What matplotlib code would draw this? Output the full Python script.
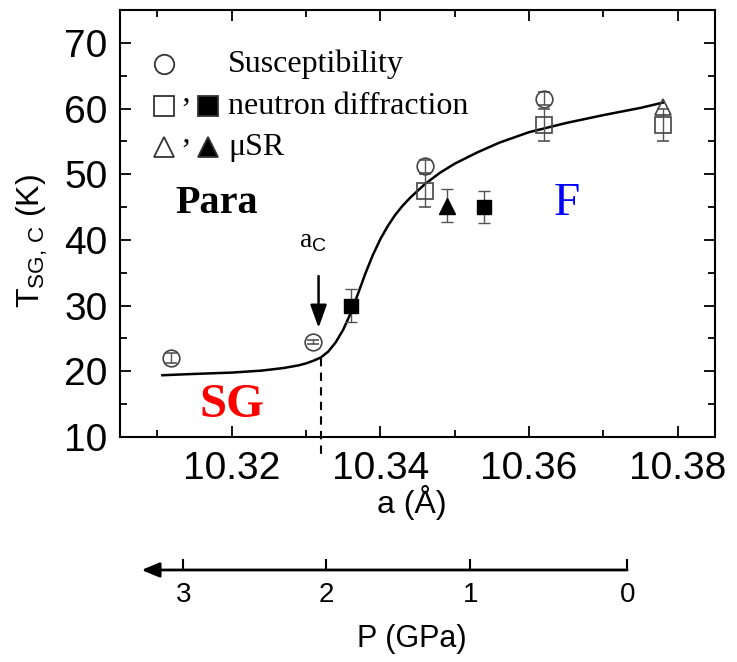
import matplotlib
matplotlib.use('Agg')
import matplotlib.pyplot as plt
from matplotlib.ticker import MultipleLocator

plt.rcParams['font.family'] = ['Liberation Sans', 'DejaVu Sans']
plt.rcParams['mathtext.fontset'] = 'custom'
plt.rcParams['mathtext.rm'] = 'Liberation Sans'
plt.rcParams['mathtext.it'] = 'Liberation Sans:italic'

# susceptibility (open circles)
sus_a = [10.3119, 10.3309, 10.3460, 10.3620]
sus_t = [22.0, 24.4, 51.2, 61.5]
sus_err = [0.8, 0.3, 1.0, 1.0]

# neutron diffraction, open and filled squares
nd_open_a = [10.3460, 10.3620, 10.3780]
nd_open_t = [47.5, 57.5, 57.5]
nd_open_err = [2.5, 2.5, 2.5]
nd_fill_a = [10.3360, 10.3540]
nd_fill_t = [30.0, 45.0]
nd_fill_err = [2.5, 2.5]

# muSR, open and filled triangles
msr_open_a = [10.3780]
msr_open_t = [60.3]
msr_fill_a = [10.3490]
msr_fill_t = [45.2]
msr_fill_err = [2.5]

# guide line
fit_a = [10.3107, 10.315, 10.320, 10.324, 10.327, 10.329, 10.330, 10.331,
         10.332, 10.333, 10.334, 10.335, 10.336, 10.337, 10.338, 10.339,
         10.340, 10.341, 10.342, 10.343, 10.344, 10.346, 10.348, 10.350,
         10.353, 10.356, 10.360, 10.365, 10.370, 10.375, 10.378]
fit_t = [19.4, 19.6, 19.8, 20.1, 20.5, 20.9, 21.2, 21.6,
         22.1, 23.0, 24.4, 26.3, 28.8, 31.8, 34.9, 37.7,
         40.1, 42.1, 43.8, 45.2, 46.4, 48.5, 50.2, 51.6,
         53.3, 54.8, 56.4, 57.8, 59.0, 60.1, 60.9]

a_c = 10.332
a_c_t = 22.1

# pressure scale: pressure values and matching lattice constant
p_ticks = [3, 2, 1, 0]
p_lattice = [10.3135, 10.3327, 10.3521, 10.3732]
p_arrow_tip = 10.3079

fig = plt.figure(figsize=(7.37, 6.62), dpi=100)
ax = fig.add_axes([0.1628, 0.3399, 0.8073, 0.6450])

ax.plot(fit_a, fit_t, color='k', lw=1.8, zorder=2)

ebkw = dict(ecolor='#555555', elinewidth=1.0, capsize=4, capthick=1.0, ls='none', zorder=3)
ax.errorbar(sus_a, sus_t, yerr=sus_err, marker='o', ms=12, mfc='none',
            mec='#444444', mew=1.2, **ebkw)
ax.errorbar(nd_open_a, nd_open_t, yerr=nd_open_err, marker='s', ms=11, mfc='none',
            mec='#444444', mew=1.2, **ebkw)
ax.errorbar(nd_fill_a, nd_fill_t, yerr=nd_fill_err, marker='s', ms=10, mfc='k',
            mec='k', **ebkw)
ax.errorbar(msr_fill_a, msr_fill_t, yerr=msr_fill_err, marker='^', ms=12, mfc='k',
            mec='k', **ebkw)
ax.plot(msr_open_a, msr_open_t, marker='^', ms=12, mfc='none', mec='#444444',
        mew=1.2, ls='none', zorder=3)

# a_C marker
ax.plot([a_c, a_c], [a_c_t, 6.8], color='k', ls=(0, (4, 3)), lw=1.5, clip_on=False)
ax.annotate('', xy=(10.3317, 26.6), xytext=(10.3317, 34.5),
            arrowprops=dict(arrowstyle='-|>,head_length=0.7,head_width=0.25',
                            color='k', lw=1.8, mutation_scale=20,
                            shrinkA=0, shrinkB=0))
ax.text(10.3309, 39.8, r'a$_{\mathrm{C}}$', family='Liberation Serif',
        fontsize=20, ha='center', va='center')

# phase labels
ax.text(10.3180, 45.5, 'Para', family='Liberation Serif', weight='bold',
        fontsize=29, ha='center', va='center')
ax.text(10.3651, 45.5, 'F', family='Liberation Serif', color='#0000ff',
        fontsize=34, ha='center', va='center')
ax.text(10.3201, 14.9, 'SG', family='Liberation Serif', color='#ff0000',
        weight='bold', fontsize=35, ha='center', va='center')

# hand made legend
tr = ax.transAxes
lk = dict(transform=tr, ls='none', mec='#333333', mew=1.3, ms=14, clip_on=False)
ax.plot([0.074], [0.874], marker='o', mfc='none', **lk)
ax.plot([0.074], [0.775], marker='s', mfc='none', **lk)
ax.plot([0.148], [0.775], marker='s', mfc='k', **lk)
ax.plot([0.074], [0.679], marker='^', mfc='none', **lk)
ax.plot([0.148], [0.679], marker='^', mfc='k', **lk)
tk = dict(transform=tr, family='Liberation Serif', fontsize=23, va='center', ha='left')
ax.text(0.101, 0.762, '\u2019', **tk)
ax.text(0.101, 0.666, '\u2019', **tk)
ax.text(0.1815, 0.874, 'Susceptibility', **tk)
ax.text(0.1815, 0.775, 'neutron diffraction', **tk)
ax.text(0.1815, 0.679, '\u03bcSR', **tk)

ax.set_xlim(10.305, 10.385)
ax.set_ylim(10, 75)
ax.xaxis.set_major_locator(MultipleLocator(0.02))
ax.xaxis.set_minor_locator(MultipleLocator(0.01))
ax.yaxis.set_major_locator(MultipleLocator(10))
ax.yaxis.set_minor_locator(MultipleLocator(5))
ax.set_xticks([10.32, 10.34, 10.36, 10.38])
ax.set_xticklabels(['10.32', '10.34', '10.36', '10.38'])
ax.tick_params(which='both', direction='in', top=True, right=True, width=1.3,
               labelsize=28)
ax.tick_params(which='major', length=8)
ax.tick_params(which='minor', length=5)
ax.tick_params(axis='x', pad=10)
ax.tick_params(axis='y', pad=9)
for s in ax.spines.values():
    s.set_linewidth(1.5)

ax.set_xlabel('a (\u00c5)', fontsize=23)
ax.xaxis.set_label_coords(0.49, -0.112)
ax.set_ylabel(r'T$_{\mathrm{SG,\,C}}$ (K)', fontsize=23)
ax.yaxis.set_label_coords(-0.118, 0.46)

# pressure scale below
ax2 = fig.add_axes([0.1628, 0.139, 0.8073, 0.001])
ax2.set_xlim(ax.get_xlim())
ax2.set_facecolor('none')
for s in ax2.spines.values():
    s.set_visible(False)
ax2.set_yticks([])
ax2.set_xticks(p_lattice)
ax2.set_xticklabels([str(p) for p in p_ticks])
ax2.tick_params(axis='x', direction='in', length=8, width=1.5, labelsize=20, pad=9)
ax2.annotate('', xy=(p_arrow_tip, 0), xycoords=('data', 'axes fraction'),
             xytext=(p_lattice[-1], 0), textcoords=('data', 'axes fraction'),
             arrowprops=dict(arrowstyle='-|>,head_length=0.6,head_width=0.25',
                             color='k', lw=2.0, mutation_scale=18,
                             shrinkA=0, shrinkB=0))
ax2.set_xlabel('P (GPa)', fontsize=22)
ax2.xaxis.set_label_coords(0.49, -82)

fig.savefig('out.png', dpi=100)
